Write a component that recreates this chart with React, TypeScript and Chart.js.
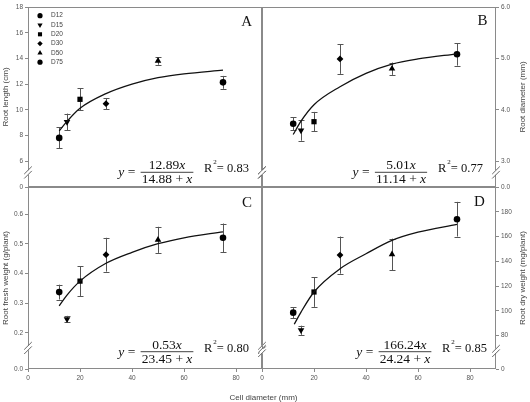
import React, { useEffect, useRef } from 'react';
import { Chart, registerables } from 'chart.js';
import { drawPoint } from 'chart.js/helpers';

Chart.register(...registerables);

const W = 530;
const H = 402;

// ---------- data ----------
const cellDiameters = [12, 15, 20, 30, 50, 75];
const treatmentLabels = ['D12', 'D15', 'D20', 'D30', 'D50', 'D75'];
const markerStyles = ['circle', 'triangle', 'rect', 'rectRot', 'triangle', 'circle'];
const markerRotations = [0, 180, 0, 0, 0, 0];

const rootLength = [7.82, 9.06, 10.82, 10.48, 13.81, 12.14];
const rootLengthSE = [0.82, 0.65, 0.85, 0.44, 0.3, 0.5];
const rootDiameter = [3.73, 3.6, 3.77, 4.99, 4.8, 5.08];
const rootDiameterSE = [0.13, 0.2, 0.19, 0.29, 0.12, 0.22];
const rootFreshWeight = [0.337, 0.246, 0.374, 0.463, 0.513, 0.52];
const rootFreshWeightSE = [0.025, 0.011, 0.05, 0.057, 0.044, 0.048];
const rootDryWeight = [98.5, 84.3, 115.2, 145, 145.6, 174];
const rootDryWeightSE = [4.5, 3.7, 12, 15, 12.7, 14];

const fitX = [12, 15, 20, 30, 40, 50, 60, 75];
const rootLengthFit = [8.36, 9.1, 10.12, 11.26, 12.0, 12.5, 12.8, 13.09];
const rootDiameterFit = [3.52, 3.78, 4.1, 4.45, 4.71, 4.89, 4.99, 5.09];
const rootFreshWeightFit = [0.291, 0.327, 0.374, 0.434, 0.471, 0.5, 0.52, 0.54];
const rootDryWeightFitX = [12.4, 15, 20, 30, 40, 50, 60, 75];
const rootDryWeightFit = [89.1, 99, 115.2, 134, 146.1, 156.9, 163.5, 169.8];

const xTicks = [0, 20, 40, 60, 80];
const xTickLabels = ['0', '20', '40', '60', '80'];
const rootLengthTicks = [4, 6, 8, 10, 12, 14, 16, 18];
const rootLengthTickLabels = ['0', '6', '8', '10', '12', '14', '16', '18'];
const rootDiameterTicks = [2.5, 3, 4, 5, 6];
const rootDiameterTickLabels = ['0.0', '3.0', '4.0', '5.0', '6.0'];
const rootFreshTicks = [0.078, 0.2, 0.3, 0.4, 0.5, 0.6];
const rootFreshTickLabels = ['0.0', '0.2', '0.3', '0.4', '0.5', '0.6'];
const rootDryTicks = [53, 80, 100, 120, 140, 160, 180];
const rootDryTickLabels = ['0', '80', '100', '120', '140', '160', '180'];

// ---------- styles ----------
const axisColor = '#8a8a8a';
const tickColor = '#555';
const titleColor = '#444';
const sans = '"Liberation Sans", Arial, sans-serif';
const serif = '"Liberation Serif", "Times New Roman", serif';
const markerRadii = [3.3, 3.8, 3.7, 3.4, 3.8, 3.3];
const legendRadii = [2.6, 3.0, 2.9, 2.7, 3.0, 2.6];

type Panel = {
  key: string;
  y: number[];
  se: number[];
  fx: number[];
  fy: number[];
  yMin: number;
  yMax: number;
  yTicks: number[];
  yLabels: string[];
  yTitle: string;
  yPos: 'left' | 'right';
  xLabels: boolean;
  area: { left: number; top: number; right: number; bottom: number };
  letter: string;
  letterPos: [number, number];
  eq: { num: string; den: string; r2: string; cx: number; r2x: number; barOff: number };
  breakOff: number;
  legend: boolean;
};

const panels: Panel[] = [
  {
    key: 'A', y: rootLength, se: rootLengthSE, fx: fitX, fy: rootLengthFit,
    yMin: 4, yMax: 18, yTicks: rootLengthTicks, yLabels: rootLengthTickLabels,
    yTitle: 'Root length (cm)', yPos: 'left', xLabels: false,
    area: { left: 28, top: 7, right: 262, bottom: 187 },
    letter: 'A', letterPos: [246.7, 21.7],
    eq: { num: '12.89', den: '14.88', r2: '0.83', cx: 167, r2x: 204, barOff: 14.7 },
    breakOff: 14.5, legend: true,
  },
  {
    key: 'B', y: rootDiameter, se: rootDiameterSE, fx: fitX, fy: rootDiameterFit,
    yMin: 2.5, yMax: 6, yTicks: rootDiameterTicks, yLabels: rootDiameterTickLabels,
    yTitle: 'Root diameter (mm)', yPos: 'right', xLabels: false,
    area: { left: 262, top: 7, right: 496, bottom: 187 },
    letter: 'B', letterPos: [482.5, 21.5],
    eq: { num: '5.01', den: '11.14', r2: '0.77', cx: 401, r2x: 438, barOff: 14.7 },
    breakOff: 14.5, legend: false,
  },
  {
    key: 'C', y: rootFreshWeight, se: rootFreshWeightSE, fx: fitX, fy: rootFreshWeightFit,
    yMin: 0.078, yMax: 0.691, yTicks: rootFreshTicks, yLabels: rootFreshTickLabels,
    yTitle: 'Root fresh weight (g/plant)', yPos: 'left', xLabels: true,
    area: { left: 28, top: 187, right: 262, bottom: 369 },
    letter: 'C', letterPos: [247, 203],
    eq: { num: '0.53', den: '23.45', r2: '0.80', cx: 167, r2x: 204, barOff: 17.3 },
    breakOff: 21, legend: false,
  },
  {
    key: 'D', y: rootDryWeight, se: rootDryWeightSE, fx: rootDryWeightFitX, fy: rootDryWeightFit,
    yMin: 53, yMax: 200, yTicks: rootDryTicks, yLabels: rootDryTickLabels,
    yTitle: 'Root dry weight (mg/plant)', yPos: 'right', xLabels: true,
    area: { left: 262, top: 187, right: 496, bottom: 369 },
    letter: 'D', letterPos: [479.5, 202.5],
    eq: { num: '166.24', den: '24.24', r2: '0.85', cx: 405, r2x: 442, barOff: 17.3 },
    breakOff: 18, legend: false,
  },
];

type Part = { t: string; i: boolean };

function partsWidth(ctx: CanvasRenderingContext2D, parts: Part[], size: number) {
  let w = 0;
  for (const p of parts) {
    ctx.font = `${p.i ? 'italic ' : ''}${size}px ${serif}`;
    w += ctx.measureText(p.t).width;
  }
  return w;
}

function drawParts(ctx: CanvasRenderingContext2D, parts: Part[], size: number, x: number, y: number) {
  let cur = x;
  ctx.textAlign = 'left';
  for (const p of parts) {
    ctx.font = `${p.i ? 'italic ' : ''}${size}px ${serif}`;
    ctx.fillText(p.t, cur, y);
    cur += ctx.measureText(p.t).width;
  }
  return cur;
}

const decoPlugin = {
  id: 'deco',
  beforeDatasetsDraw(chart: any) {
    const p: Panel = chart.options.plugins.deco.panel;
    const { ctx, chartArea: a, scales } = chart;
    ctx.save();
    ctx.strokeStyle = axisColor;
    ctx.lineWidth = 1;
    const l = Math.round(a.left) + 0.5;
    const r = Math.round(a.right) - 0.5;
    const t = Math.round(a.top) + 0.5;
    const b = Math.round(a.bottom) - 0.5;
    ctx.strokeRect(l, t, r - l, b - t);
    // error bars
    ctx.strokeStyle = '#555';
    ctx.lineWidth = 1;
    cellDiameters.forEach((xv, i) => {
      const x = Math.round(scales.x.getPixelForValue(xv)) + 0.5;
      const y1 = scales.y.getPixelForValue(p.y[i] + p.se[i]);
      const y2 = scales.y.getPixelForValue(p.y[i] - p.se[i]);
      ctx.beginPath();
      ctx.moveTo(x, y1);
      ctx.lineTo(x, y2);
      ctx.moveTo(x - 3, Math.round(y1) + 0.5);
      ctx.lineTo(x + 3, Math.round(y1) + 0.5);
      ctx.moveTo(x - 3, Math.round(y2) + 0.5);
      ctx.lineTo(x + 3, Math.round(y2) + 0.5);
      ctx.stroke();
    });
    ctx.restore();
  },
  afterDraw(chart: any) {
    const p: Panel = chart.options.plugins.deco.panel;
    const { ctx, chartArea: a } = chart;
    ctx.save();
    // axis breaks
    const by = a.bottom - p.breakOff;
    [a.left, a.right].forEach((bx: number) => {
      ctx.fillStyle = '#fff';
      ctx.fillRect(bx - 2.5, by - 2.3, 5, 4.6);
      ctx.strokeStyle = '#666';
      ctx.lineWidth = 1;
      ctx.beginPath();
      ctx.moveTo(bx - 3.8, by - 2.2 + 3.8);
      ctx.lineTo(bx + 3.8, by - 2.2 - 3.8);
      ctx.moveTo(bx - 3.8, by + 2.2 + 3.8);
      ctx.lineTo(bx + 3.8, by + 2.2 - 3.8);
      ctx.stroke();
    });
    // panel letter
    ctx.fillStyle = '#111';
    ctx.font = `15px ${serif}`;
    ctx.textAlign = 'center';
    ctx.textBaseline = 'middle';
    ctx.fillText(p.letter, p.letterPos[0], p.letterPos[1]);
    // equation
    const e = p.eq;
    const barY = a.bottom - e.barOff;
    const fs = 13.5;
    ctx.textBaseline = 'alphabetic';
    const num: Part[] = [{ t: e.num, i: false }, { t: 'x', i: true }];
    const den: Part[] = [{ t: e.den + ' + ', i: false }, { t: 'x', i: true }];
    const wn = partsWidth(ctx, num, fs);
    const wd = partsWidth(ctx, den, fs);
    drawParts(ctx, num, fs, e.cx - wn / 2, barY - 3);
    drawParts(ctx, den, fs, e.cx - wd / 2, barY + 11);
    const bw = Math.max(wn, wd) + 2;
    ctx.strokeStyle = '#111';
    ctx.lineWidth = 0.8;
    ctx.beginPath();
    ctx.moveTo(e.cx - bw / 2, barY);
    ctx.lineTo(e.cx + bw / 2, barY);
    ctx.stroke();
    const yeq: Part[] = [{ t: 'y', i: true }, { t: ' = ', i: false }];
    const wy = partsWidth(ctx, yeq, fs);
    drawParts(ctx, yeq, fs, e.cx - bw / 2 - 2 - wy, barY + 4);
    ctx.font = `12.5px ${serif}`;
    ctx.textAlign = 'left';
    ctx.fillText('R', e.r2x, barY);
    const rw = ctx.measureText('R').width;
    ctx.font = `7px ${serif}`;
    ctx.fillText('2', e.r2x + rw + 1, barY - 8);
    ctx.font = `12.5px ${serif}`;
    ctx.fillText('= ' + e.r2, e.r2x + rw + 4.5, barY);
    // right-side axis title
    if (p.yPos === 'right') {
      ctx.save();
      ctx.translate(523, (a.top + a.bottom) / 2);
      ctx.rotate(-Math.PI / 2);
      ctx.font = `8px ${sans}`;
      ctx.fillStyle = titleColor;
      ctx.textAlign = 'center';
      ctx.textBaseline = 'middle';
      ctx.fillText(p.yTitle, 0, 0);
      ctx.restore();
    }
    if (p.key === 'D') {
      ctx.font = `8px ${sans}`;
      ctx.fillStyle = titleColor;
      ctx.textAlign = 'center';
      ctx.textBaseline = 'middle';
      ctx.fillText('Cell diameter (mm)', 263.5, 397.5);
    }
    // legend
    if (p.legend) {
      treatmentLabels.forEach((lab, i) => {
        const y = 15.7 + i * 9.3;
        ctx.fillStyle = '#000';
        ctx.strokeStyle = '#000';
        drawPoint(ctx, { pointStyle: markerStyles[i] as any, rotation: markerRotations[i], radius: legendRadii[i], borderWidth: 0 } as any, 40, y);
        ctx.fillStyle = '#444';
        ctx.font = `6.5px ${sans}`;
        ctx.textAlign = 'left';
        ctx.textBaseline = 'middle';
        ctx.fillText(lab, 51, y);
      });
    }
    ctx.restore();
  },
};

function makeConfig(p: Panel): any {
  const yW = p.yPos === 'left' ? 28 : 34;
  const xH = 16;
  return {
    type: 'scatter',
    data: {
      datasets: [
        {
          type: 'line',
          data: p.fx.map((x, i) => ({ x, y: p.fy[i] })),
          borderColor: '#111',
          borderWidth: 1.3,
          pointRadius: 0,
          fill: false,
          showLine: true,
          cubicInterpolationMode: 'monotone',
        },
        {
          type: 'scatter',
          data: cellDiameters.map((x, i) => ({ x, y: p.y[i] })),
          pointStyle: markerStyles,
          pointRotation: markerRotations,
          pointRadius: markerRadii,
          pointBackgroundColor: '#000',
          pointBorderColor: '#000',
          pointBorderWidth: 0,
          showLine: false,
        },
      ],
    },
    options: {
      responsive: false,
      animation: false,
      events: [],
      layout: {
        padding: {
          left: p.area.left - (p.yPos === 'left' ? yW : 0),
          right: W - p.area.right - (p.yPos === 'right' ? yW : 0),
          top: p.area.top,
          bottom: H - p.area.bottom - (p.xLabels ? xH : 0),
        },
      },
      scales: {
        x: {
          type: 'linear',
          min: 0,
          max: 90,
          display: p.xLabels,
          afterBuildTicks: (s: any) => { s.ticks = xTicks.map((v) => ({ value: v })); },
          ...(p.xLabels ? { afterFit: (s: any) => { s.height = xH; } } : {}),
          ticks: {
            font: { family: sans, size: 6.5 },
            color: tickColor,
            padding: 2,
            maxRotation: 0,
            callback: (_v: any, i: number) => xTickLabels[i],
          },
          grid: { display: true, drawOnChartArea: false, drawTicks: true, tickLength: 3, color: axisColor },
          border: { display: false },
        },
        y: {
          type: 'linear',
          position: p.yPos,
          min: p.yMin,
          max: p.yMax,
          afterBuildTicks: (s: any) => { s.ticks = p.yTicks.map((v) => ({ value: v })); },
          afterFit: (s: any) => { s.width = yW; },
          ticks: {
            font: { family: sans, size: 6.5 },
            color: tickColor,
            padding: 2,
            callback: (_v: any, i: number) => p.yLabels[i],
          },
          grid: { display: true, drawOnChartArea: false, drawTicks: true, tickLength: 3, color: axisColor },
          border: { display: false },
          title: p.yPos === 'left'
            ? { display: true, text: p.yTitle, font: { family: sans, size: 8 }, color: titleColor, padding: { top: 0.5, bottom: 0 } }
            : { display: false },
        },
      },
      plugins: {
        legend: { display: false },
        tooltip: { enabled: false },
        deco: { panel: p },
      },
    },
    plugins: [decoPlugin],
  };
}

export default function App() {
  const canvases = useRef<(HTMLCanvasElement | null)[]>([]);
  useEffect(() => {
    const charts = panels.map((p, i) => new Chart(canvases.current[i] as HTMLCanvasElement, makeConfig(p)));
    return () => charts.forEach((c) => c.destroy());
  }, []);
  return (
    <div style={{ position: 'absolute', left: 0, top: 0, width: W, height: H, background: '#fff', overflow: 'hidden' }}>
      {panels.map((p, i) => (
        <canvas
          key={p.key}
          ref={(el) => { canvases.current[i] = el; }}
          width={W}
          height={H}
          style={{ position: 'absolute', left: 0, top: 0, width: W, height: H }}
        />
      ))}
    </div>
  );
}
